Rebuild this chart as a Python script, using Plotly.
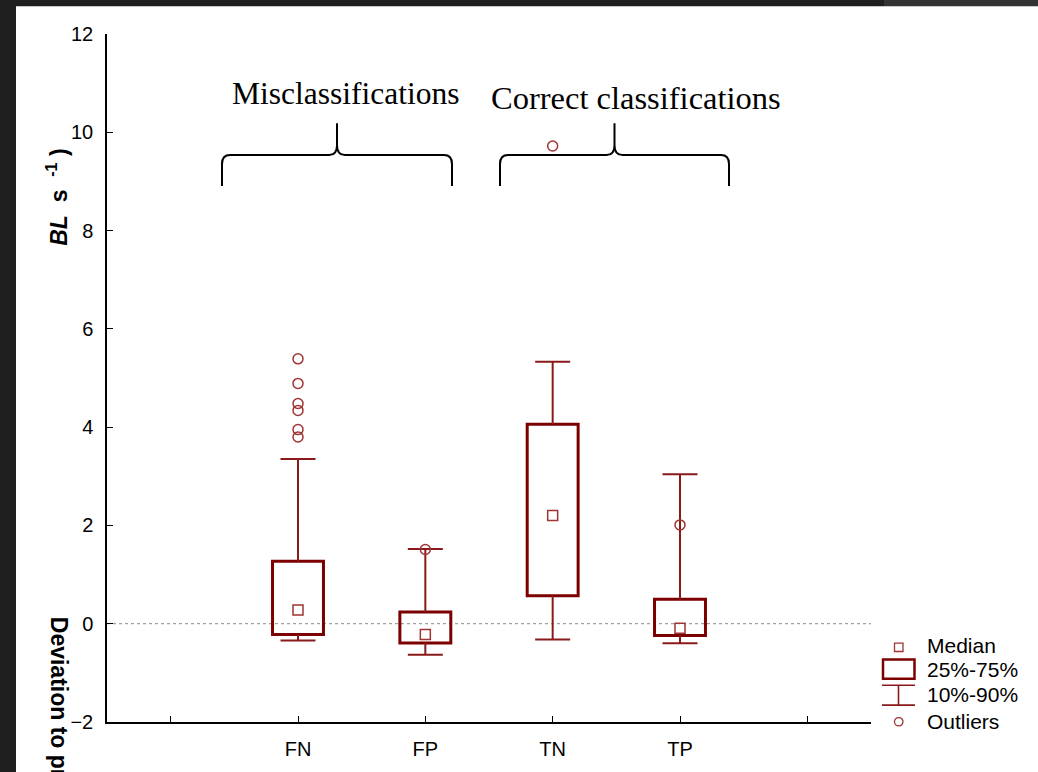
import plotly.graph_objects as go

# ---------------- data ----------------
categories = ["FN", "FP", "TN", "TP"]
median = [0.28, -0.22, 2.20, -0.09]
q1 = [-0.22, -0.39, 0.57, -0.24]
q3 = [1.27, 0.24, 4.06, 0.50]
p10 = [-0.34, -0.63, -0.32, -0.40]
p90 = [3.35, 1.52, 5.33, 3.04]
outlier_cat = ["FN", "FN", "FN", "FN", "FN", "FN", "FP", "TN", "TP"]
outlier_val = [5.39, 4.89, 4.48, 4.34, 3.95, 3.80, 1.51, 9.72, 2.01]

x_order = [" "] + categories + ["  "]
group_labels = ["Misclassifications", "Correct classifications"]
legend_labels = ["Median", "25%-75%", "10%-90%", "Outliers"]
y_ticks = [-2, 0, 2, 4, 6, 8, 10, 12]

# ---------------- styles ----------------
BOX_C = "#7d0000"
WHISK_C = "#8a1a1a"
MARK_C = "#a03434"
FRAME_C = "#1f1f1f"
W, H = 1038, 772
L, T, R, B = 107, 34, 167, 45
PW, PH = W - L - R, H - T - B


def px(x):
    return (x - L) / PW


def py(y):
    return (H - B - y) / PH


fig = go.Figure()

# boxes (25%-75%)
fig.add_trace(go.Bar(
    x=categories, y=[b - a for a, b in zip(q1, q3)], base=q1, width=0.4,
    marker=dict(color="rgba(255,255,255,0)", line=dict(color=BOX_C, width=3)),
    hoverinfo="skip"))

# whiskers (10%-90%)
wx, wy = [], []
for c, a, b, lo, hi in zip(categories, q1, q3, p10, p90):
    wx += [c, c, None, c, c, None]
    wy += [b, hi, None, a, lo, None]
fig.add_trace(go.Scatter(x=wx, y=wy, mode="lines",
                         line=dict(color=WHISK_C, width=2), hoverinfo="skip"))
fig.add_trace(go.Scatter(x=categories * 2, y=p10 + p90, mode="markers",
                         marker=dict(symbol="line-ew-open", size=25, color=WHISK_C,
                                     line=dict(color=WHISK_C, width=2)),
                         hoverinfo="skip"))
# medians
fig.add_trace(go.Scatter(x=categories, y=median, mode="markers",
                         marker=dict(symbol="square-open", size=10, color=MARK_C,
                                     line=dict(color=MARK_C, width=1.5))))
# outliers
fig.add_trace(go.Scatter(x=outlier_cat, y=outlier_val, mode="markers",
                         marker=dict(symbol="circle-open", size=10, color=MARK_C,
                                     line=dict(color=MARK_C, width=1.5))))

shapes = []
# screenshot frame strips
shapes.append(dict(type="rect", xref="paper", yref="paper", layer="above",
                   x0=px(-30), x1=px(16), y0=py(H + 30), y1=py(-30),
                   fillcolor=FRAME_C, line=dict(width=0)))
shapes.append(dict(type="rect", xref="paper", yref="paper", layer="above",
                   x0=px(-30), x1=px(884), y0=py(6), y1=py(-30),
                   fillcolor=FRAME_C, line=dict(width=0)))
shapes.append(dict(type="rect", xref="paper", yref="paper", layer="above",
                   x0=px(884), x1=px(W + 30), y0=py(6), y1=py(-30),
                   fillcolor="#333333", line=dict(width=0)))
# dotted zero line
shapes.append(dict(type="line", xref="paper", yref="y", layer="below",
                   x0=0, x1=1, y0=0, y1=0,
                   line=dict(color="#8a8a8a", width=1, dash="dot")))


def brace(xl, xr, y_end, y_bar, y_tip):
    xm = (xl + xr) / 2
    pts = [
        ("M", [(xl, y_end)]),
        ("L", [(xl, y_bar + 9)]),
        ("Q", [(xl, y_bar), (xl + 8, y_bar)]),
        ("L", [(xm - 8, y_bar)]),
        ("Q", [(xm, y_bar), (xm, y_bar - 10)]),
        ("L", [(xm, y_tip)]),
        ("M", [(xm, y_bar - 10)]),
        ("Q", [(xm, y_bar), (xm + 8, y_bar)]),
        ("L", [(xr - 8, y_bar)]),
        ("Q", [(xr, y_bar), (xr, y_bar + 9)]),
        ("L", [(xr, y_end)]),
    ]
    s = ""
    for cmd, ps in pts:
        s += cmd + " ".join(f"{px(a):.5f},{py(b):.5f}" for a, b in ps) + " "
    return s.strip()


for xl, xr in [(222, 452), (500, 729)]:
    shapes.append(dict(type="path", xref="paper", yref="paper",
                       path=brace(xl, xr, 187, 156, 124),
                       line=dict(color="black", width=2)))

# custom legend symbols
shapes.append(dict(type="rect", xref="paper", yref="paper",
                   x0=px(894.5), x1=px(903), y0=py(656), y1=py(647.5),
                   line=dict(color=MARK_C, width=1.3)))
shapes.append(dict(type="rect", xref="paper", yref="paper",
                   x0=px(883), x1=px(914.5), y0=py(683.5), y1=py(664),
                   line=dict(color=BOX_C, width=2.5)))
for yy in (690, 710):
    shapes.append(dict(type="line", xref="paper", yref="paper",
                       x0=px(882), x1=px(915), y0=py(yy), y1=py(yy),
                       line=dict(color=WHISK_C, width=1.6)))
shapes.append(dict(type="line", xref="paper", yref="paper",
                   x0=px(898.5), x1=px(898.5), y0=py(690), y1=py(710),
                   line=dict(color=WHISK_C, width=1.6)))
shapes.append(dict(type="circle", xref="paper", yref="paper",
                   x0=px(894.5), x1=px(903), y0=py(731), y1=py(722.5),
                   line=dict(color=MARK_C, width=1.3)))

annotations = []
for lbl, cx, cy, fs in zip(group_labels, (345, 636), (94, 98), (31.5, 32.5)):
    annotations.append(dict(text=lbl, xref="paper", yref="paper",
                            x=px(cx), y=py(cy), showarrow=False,
                            xanchor="center", yanchor="middle",
                            font=dict(family="Liberation Serif", size=fs, color="black")))
for lbl, cy in zip(legend_labels, (650, 674, 699, 726)):
    annotations.append(dict(text=lbl, xref="paper", yref="paper",
                            x=px(925), y=py(cy), showarrow=False,
                            xanchor="left", yanchor="middle",
                            font=dict(family="Liberation Sans", size=21, color="black")))
# y-axis title pieces (as in the reference)
annotations.append(dict(text="<b>Deviation to predicted speed</b>", xref="paper", yref="paper",
                        x=px(59), y=py(619), showarrow=False, textangle=90,
                        xanchor="center", yanchor="top",
                        font=dict(family="Liberation Sans", size=23, color="black")))
annotations.append(dict(text="<b><i>BL</i>&nbsp; s&nbsp; <sup>-1</sup>&nbsp;)</b>",
                        xref="paper", yref="paper",
                        x=px(57), y=py(199), showarrow=False, textangle=-90,
                        xanchor="center", yanchor="middle",
                        font=dict(family="Liberation Sans", size=23, color="black")))

fig.update_layout(
    width=W, height=H,
    margin=dict(l=L, r=R, t=T, b=B, pad=0),
    paper_bgcolor="white", plot_bgcolor="white",
    showlegend=False, shapes=shapes, annotations=annotations,
    xaxis=dict(type="category", categoryorder="array", categoryarray=x_order,
               range=[-0.5, 5.5], showgrid=False, zeroline=False,
               showline=True, linecolor="black", linewidth=1.5,
               ticks="inside", ticklen=6, tickcolor="black", tickwidth=1.2,
               ticklabelstandoff=8,
               tickfont=dict(family="Liberation Sans", size=20, color="black")),
    yaxis=dict(range=[-2, 12], tickvals=y_ticks, showgrid=False, zeroline=False,
               showline=True, linecolor="black", linewidth=1.5,
               ticks="inside", ticklen=6, tickcolor="black", tickwidth=1.2,
               ticklabelstandoff=8,
               tickfont=dict(family="Liberation Sans", size=20, color="black")),
)

fig.write_html("out.html", config={"displayModeBar": False},
               post_script="document.body.style.margin='0';document.body.style.overflow='hidden';")
